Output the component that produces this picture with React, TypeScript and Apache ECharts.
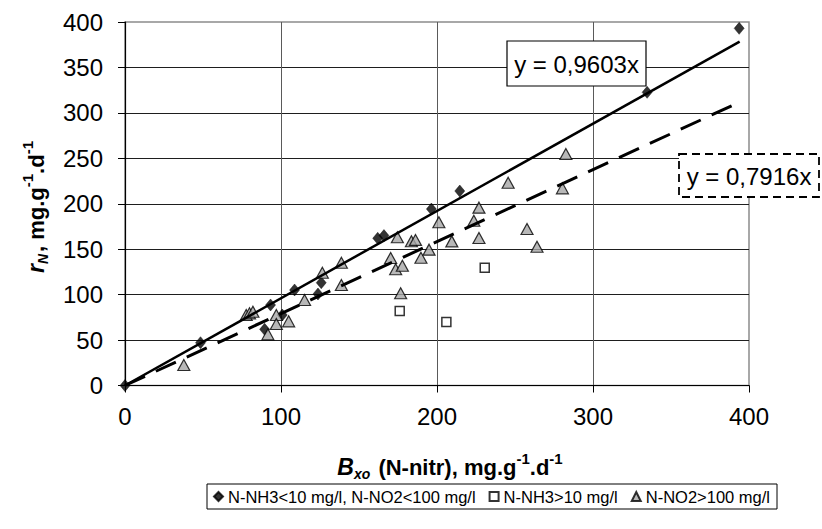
import React, { useEffect, useRef } from "react";
import * as echarts from "echarts";

// ---- data ----
const SERIES_NAMES = [
  "N-NH3<10 mg/l, N-NO2<100 mg/l",
  "N-NH3>10 mg/l",
  "N-NO2>100 mg/l",
];

const diamondX = [0, 48.4, 89.5, 93.3, 100.8, 108.7, 123.7, 125.8, 162, 166, 196.4, 214.6, 334.7, 393.7];
const diamondY = [0, 47.1, 61.8, 88.6, 77.6, 105.1, 100.7, 113.1, 162, 165, 194.2, 214.0, 322.6, 393.0];

const squareX = [176.1, 206.0, 230.6];
const squareY = [82.0, 69.9, 129.6];

const triangleX = [37.7, 77.7, 79.8, 82.0, 91.6, 97.0, 97.0, 104.9, 115.1, 126.5, 138.7, 138.7, 170.3, 173.5, 174.6, 176.7, 177.8, 183.6, 186.2, 189.7, 194.9, 201.2, 209.5, 223.6, 226.9, 226.9, 245.6, 257.7, 264.1, 280.4, 282.6];
const triangleY = [22.6, 77.6, 79.4, 81.2, 56.3, 77.6, 67.7, 70.6, 94.1, 124.1, 135.1, 110.6, 140.3, 127.9, 163.1, 101.5, 131.8, 158.7, 160.2, 140.6, 149.5, 179.6, 158.6, 181.3, 195.7, 162.3, 223.1, 172.2, 152.7, 217.0, 254.7];

const slopeSolid = 0.9603;
const slopeDashed = 0.7916;
const trendXEnd = 394;

const eqSolid = "y = 0,9603x";
const eqDashed = "y = 0,7916x";

const xTickValues = [0, 100, 200, 300, 400];
const yTickValues = [0, 50, 100, 150, 200, 250, 300, 350, 400];

const FONT = "'Liberation Sans', Arial, sans-serif";

function zip(xs: number[], ys: number[]) {
  return xs.map((x, i) => [x, ys[i]]);
}

export default function App() {
  const ref = useRef<HTMLDivElement>(null);

  useEffect(() => {
    document.body.style.margin = "0";
    if (!ref.current) return;
    const chart = echarts.init(ref.current, null, { renderer: "svg" });

    const titleRich = {
      b: { fontSize: 22, fontWeight: "bold", fontFamily: FONT, color: "#000", lineHeight: 32, verticalAlign: "middle" },
      bi: { fontSize: 23, fontWeight: "bold", fontStyle: "italic", fontFamily: FONT, color: "#000", lineHeight: 32, verticalAlign: "middle" },
      sub: { fontSize: 14, fontWeight: "bold", fontStyle: "italic", fontFamily: FONT, color: "#000", verticalAlign: "bottom", padding: [0, 2, 2, 0] },
      sup: { fontSize: 15, fontWeight: "bold", fontFamily: FONT, color: "#000", verticalAlign: "top" },
    };

    const option: any = {
      animation: false,
      backgroundColor: "#fff",
      grid: {
        left: 125,
        right: 73,
        top: 22,
        bottom: 143.5,
        show: true,
        borderColor: "#8c8c8c",
        borderWidth: 1.5,
        containLabel: false,
      },
      xAxis: {
        type: "value",
        min: xTickValues[0],
        max: xTickValues[xTickValues.length - 1],
        interval: 100,
        axisLine: { show: true, onZero: false, lineStyle: { color: "#000", width: 1.2 } },
        axisTick: { show: true, inside: false, length: 7, lineStyle: { color: "#000" } },
        axisLabel: { fontSize: 24, color: "#000", fontFamily: FONT, margin: 19 },
        splitLine: { show: true, showMaxLine: false, lineStyle: { color: "#5a5a5a", width: 1 } },
      },
      yAxis: {
        type: "value",
        min: yTickValues[0],
        max: yTickValues[yTickValues.length - 1],
        interval: 50,
        axisLine: { show: true, onZero: false, lineStyle: { color: "#000", width: 1.2 } },
        axisTick: { show: true, inside: false, length: 7, lineStyle: { color: "#000" } },
        axisLabel: { fontSize: 24, color: "#000", fontFamily: FONT, margin: 22 },
        splitLine: { show: true, showMaxLine: false, lineStyle: { color: "#1e1e1e", width: 1 } },
      },
      legend: {
        data: SERIES_NAMES,
        left: 207,
        top: 484,
        orient: "horizontal",
        padding: [4, 7, 4, 6],
        borderColor: "#000",
        borderWidth: 1,
        itemWidth: 9,
        itemHeight: 9,
        itemGap: 13,
        textStyle: { fontSize: 16.5, color: "#000", fontFamily: FONT, padding: [0, 0, 0, 0] },
      },
      series: [
        {
          name: SERIES_NAMES[0],
          type: "scatter",
          symbol: "diamond",
          symbolSize: [10, 12],
          itemStyle: { color: "#000", borderColor: "#000", borderWidth: 0.5 },
          data: zip(diamondX, diamondY),
          z: 3,
        },
        {
          name: SERIES_NAMES[1],
          type: "scatter",
          symbol: "rect",
          symbolSize: 9,
          itemStyle: { color: "#fff", borderColor: "#000", borderWidth: 1.5 },
          data: zip(squareX, squareY),
          z: 3,
        },
        {
          name: SERIES_NAMES[2],
          type: "scatter",
          symbol: "triangle",
          symbolSize: [12, 11],
          itemStyle: { color: "#a6a6a6", borderColor: "#000", borderWidth: 1.2 },
          data: zip(triangleX, triangleY),
          z: 3,
        },
        {
          name: "trend-solid",
          type: "line",
          showSymbol: false,
          symbol: "none",
          lineStyle: { color: "#000", width: 2.5, type: "solid" },
          data: [[0, 0], [trendXEnd, slopeSolid * trendXEnd]],
          z: 5,
          silent: true,
        },
        {
          name: "trend-dashed",
          type: "line",
          showSymbol: false,
          symbol: "none",
          lineStyle: { color: "#000", width: 3, type: [22, 12] },
          data: [[0, 0], [trendXEnd, slopeDashed * trendXEnd]],
          z: 5,
          silent: true,
        },
      ],
      graphic: [
        {
          type: "rect",
          shape: { x: 507, y: 41, width: 139, height: 45 },
          style: { fill: "#fff", stroke: "#000", lineWidth: 1.2 },
          z: 10,
        },
        {
          type: "text",
          x: 576.5,
          y: 64,
          style: { text: eqSolid, fontSize: 24, fontFamily: FONT, fill: "#000", align: "center", verticalAlign: "middle" },
          z: 11,
        },
        {
          type: "rect",
          shape: { x: 679, y: 154, width: 140, height: 43 },
          style: { fill: "#fff", stroke: "#000", lineWidth: 1.8, lineDash: [8, 5] },
          z: 10,
        },
        {
          type: "text",
          x: 749,
          y: 176,
          style: { text: eqDashed, fontSize: 24, fontFamily: FONT, fill: "#000", align: "center", verticalAlign: "middle" },
          z: 11,
        },
        {
          type: "text",
          x: 450,
          y: 467,
          style: {
            text: "{bi|B}{sub|xo}{b| (N-nitr), mg.g}{sup|-1}{b|.d}{sup|-1}",
            rich: titleRich,
            align: "center",
            verticalAlign: "middle",
          },
          z: 11,
        },
        {
          type: "text",
          x: 36,
          y: 207,
          rotation: Math.PI / 2,
          style: {
            text: "{bi|r}{sub|N}{b|, mg.g}{sup|-1}{b|.d}{sup|-1}",
            rich: titleRich,
            align: "center",
            verticalAlign: "middle",
          },
          z: 11,
        },
      ],
    };

    chart.setOption(option);
    return () => chart.dispose();
  }, []);

  return <div ref={ref} style={{ width: 822, height: 529 }} />;
}
